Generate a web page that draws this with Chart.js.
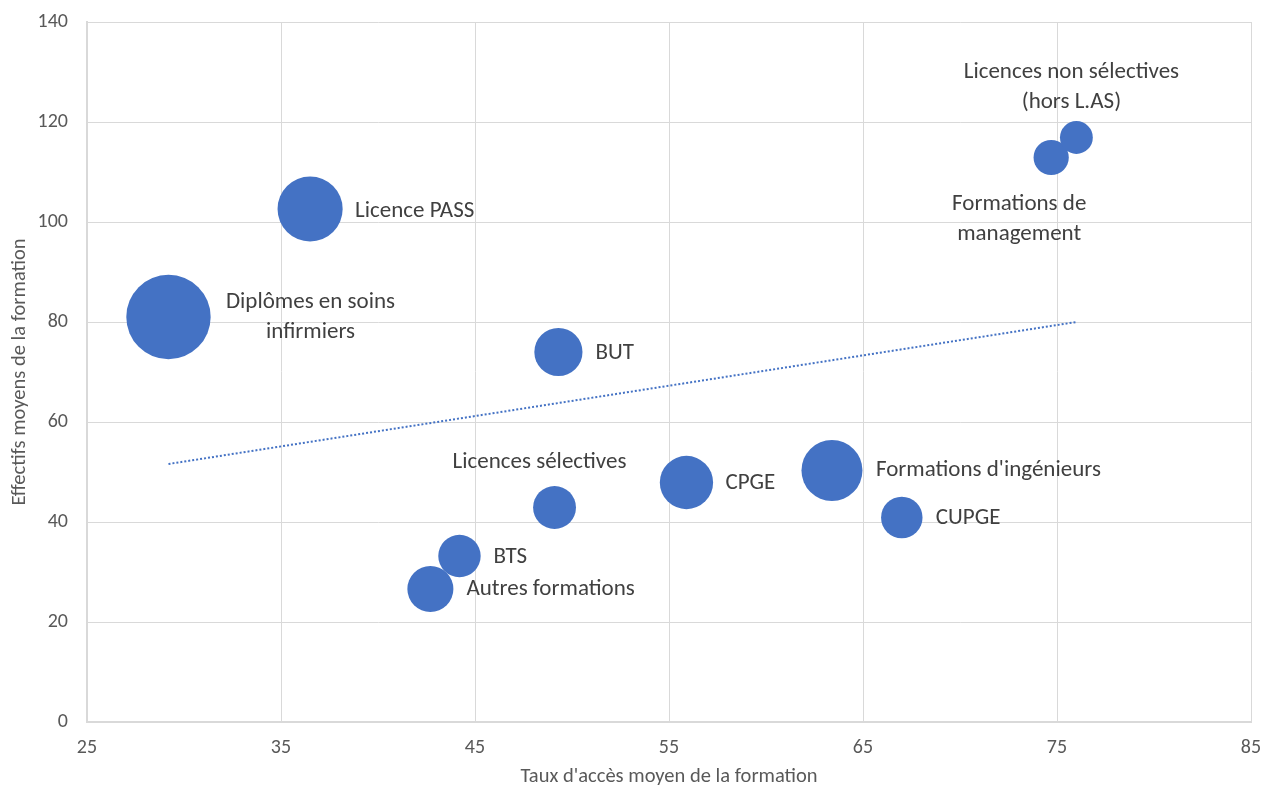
<!DOCTYPE html>
<html>
<head>
<meta charset="utf-8">
<script src="https://cdn.jsdelivr.net/npm/chart.js@4/dist/chart.umd.min.js"></script>
<style>
  html, body { margin: 0; padding: 0; background: #ffffff; }
  #wrap { width: 1261px; height: 787px; position: relative; }
</style>
</head>
<body>
<div id="wrap"><canvas id="c" width="1261" height="787"></canvas></div>
<script>
// ---- Data ----
const categories = [
  "Diplômes en soins infirmiers",
  "Licence PASS",
  "BUT",
  "Licences sélectives",
  "CPGE",
  "Formations d'ingénieurs",
  "CUPGE",
  "BTS",
  "Autres formations",
  "Formations de management",
  "Licences non sélectives (hors L.AS)"
];
const tauxAcces = [29.2, 36.5, 49.3, 49.1, 55.9, 63.4, 67.0, 44.2, 42.7, 74.7, 76.0];
const effectifs = [81.0, 102.6, 74.0, 42.9, 47.9, 50.3, 40.9, 33.2, 26.6, 112.9, 116.9];
const bubbleWeight = [178, 106, 58, 46, 71, 93, 43, 45, 53, 31, 27];
const trendX = [29.2, 76.0];
const trendY = [51.6, 80.0];
const xTicks = [25, 35, 45, 55, 65, 75, 85];
const yTicks = [0, 20, 40, 60, 80, 100, 120, 140];

// ---- Label layout (pixel offsets from bubble centre; presentation only) ----
const labelLines = [
  ["Diplômes en soins", "infirmiers"],
  ["Licence PASS"],
  ["BUT"],
  ["Licences sélectives"],
  ["CPGE"],
  ["Formations d'ingénieurs"],
  ["CUPGE"],
  ["BTS"],
  ["Autres formations"],
  ["Formations de", "management"],
  ["Licences non sélectives", "(hors L.AS)"]
];
const labelLayout = [
  { dx: 142, dy: -15, align: "center" },
  { dx: 45, dy: 2, align: "left" },
  { dx: 37, dy: 1, align: "left" },
  { dx: -15, dy: -45, align: "center" },
  { dx: 39, dy: 1, align: "left" },
  { dx: 44, dy: 0, align: "left" },
  { dx: 34, dy: 1, align: "left" },
  { dx: 34, dy: 1, align: "left" },
  { dx: 36, dy: 0, align: "left" },
  { dx: -32, dy: 47, align: "center" },
  { dx: -5, dy: -65, align: "center" }
];
const LINE_H = 30;
const FONT = "Carlito, Lato, 'Open Sans', sans-serif";

const bubblePoints = tauxAcces.map((x, i) => ({ x: x, y: effectifs[i], r: Math.sqrt(bubbleWeight[i] * 10) }));
const trendPoints = trendX.map((x, i) => ({ x: x, y: trendY[i] }));

const labelPlugin = {
  id: "bubbleLabels",
  afterDatasetsDraw(chart) {
    const meta = chart.getDatasetMeta(1);
    const ctx = chart.ctx;
    ctx.save();
    ctx.font = "23px " + FONT;
    ctx.fillStyle = "#404040";
    ctx.textBaseline = "middle";
    meta.data.forEach((el, i) => {
      const L = labelLayout[i];
      ctx.textAlign = L.align;
      labelLines[i].forEach((t, k) => {
        ctx.fillText(t, el.x + L.dx, el.y + L.dy + k * LINE_H);
      });
    });
    ctx.restore();
  }
};

new Chart(document.getElementById("c"), {
  data: {
    datasets: [
      {
        type: "line",
        label: "Tendance",
        data: trendPoints,
        borderColor: "#4472c4",
        borderWidth: 2,
        borderDash: [2, 2],
        pointRadius: 0,
        fill: false,
        order: 2
      },
      {
        type: "bubble",
        label: "Formations",
        data: bubblePoints,
        backgroundColor: "#4472c4",
        borderWidth: 0,
        hoverRadius: 0,
        clip: false,
        order: 1
      }
    ]
  },
  options: {
    responsive: false,
    animation: false,
    events: [],
    layout: { autoPadding: false, padding: { top: 22, right: 10, left: 0, bottom: 0 } },
    plugins: { legend: { display: false }, tooltip: { enabled: false } },
    scales: {
      x: {
        type: "linear",
        min: 25, max: 85,
        afterBuildTicks: (s) => { s.ticks = xTicks.map(v => ({ value: v })); },
        afterFit: (s) => { s.height = 65; s.paddingLeft = 0; s.paddingRight = 0; },
        grid: { color: "#d9d9d9", lineWidth: 1, drawTicks: false },
        border: { color: "#d9d9d9", width: 2 },
        ticks: { color: "#595959", font: { family: FONT, size: 20 }, padding: 14, maxRotation: 0 },
        title: { display: true, text: "Taux d'accès moyen de la formation", color: "#595959", font: { family: FONT, size: 20.5, lineHeight: 1.0 }, padding: { top: 0, bottom: 0 } }
      },
      y: {
        type: "linear",
        min: 0, max: 140,
        afterBuildTicks: (s) => { s.ticks = yTicks.map(v => ({ value: v })); },
        afterFit: (s) => { s.width = 87; s.paddingTop = 0; s.paddingBottom = 0; },
        grid: { color: "#d9d9d9", lineWidth: 1, drawTicks: false },
        border: { color: "#d9d9d9", width: 2 },
        ticks: { color: "#595959", font: { family: FONT, size: 20 }, padding: 19 },
        title: { display: true, text: "Effectifs moyens de la formation", color: "#595959", font: { family: FONT, size: 20.5, lineHeight: 1.0 }, padding: { top: 10, bottom: 0 } }
      }
    }
  },
  plugins: [labelPlugin]
});
</script>
</body>
</html>
